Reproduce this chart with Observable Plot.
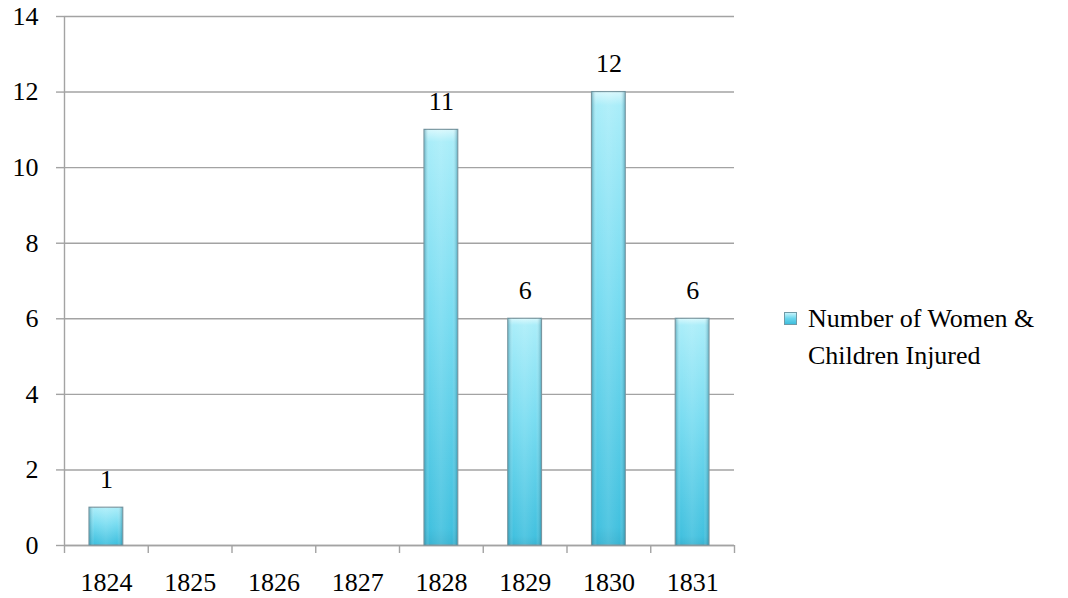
<!DOCTYPE html>
<html>
<head>
<meta charset="utf-8">
<script src="https://cdn.jsdelivr.net/npm/d3@7"></script>
<script src="https://cdn.jsdelivr.net/npm/@observablehq/plot@0.6"></script>
<style>
  body { margin: 0; background: #fff; font-family: 'Liberation Serif', serif; }
  #wrap { position: relative; width: 1068px; height: 598px; }
  #legend {
    position: absolute; left: 784px; top: 300px;
    font-family: 'Liberation Serif', serif;
    font-size: 26px; line-height: 37px; color: #000; white-space: nowrap;
  }
  #legend .sw {
    display: inline-block; width: 13px; height: 13px; margin-right: 11px;
    background: linear-gradient(180deg, #c4f3fb 0%, #6ad6ed 50%, #3ebddc 100%);
    border: 1px solid #6f9aa7; box-sizing: border-box; vertical-align: 2px;
  }
  #legend .l2 { padding-left: 24px; }
  svg text { font-family: 'Liberation Serif', serif !important; }
</style>
</head>
<body>
<div id="wrap"></div>
<script>
// Women & children injured per year
const years = ["1824", "1825", "1826", "1827", "1828", "1829", "1830", "1831"];
const injured = [1, 0, 0, 0, 11, 6, 12, 6];
const yTicks = [0, 2, 4, 6, 8, 10, 12, 14];
const seriesName = ["Number of Women &", "Children Injured"];

const data = years.map((y, i) => ({i, year: y, value: injured[i]}));
const shown = data.filter(d => d.value > 0);

const serif = "Liberation Serif";
const gridColor = "#a3a3a3";
const fs = 26;

// gradients for the glossy cyan bars
function gradients() {
  const defs = d3.create("svg:defs");
  const v = defs.append("linearGradient").attr("id", "barV")
    .attr("x1", 0).attr("y1", 0).attr("x2", 0).attr("y2", 1);
  v.append("stop").attr("offset", "0%").attr("stop-color", "#d8f8fd");
  v.append("stop").attr("offset", "3%").attr("stop-color", "#a9edf9");
  v.append("stop").attr("offset", "45%").attr("stop-color", "#78dcf1");
  v.append("stop").attr("offset", "96%").attr("stop-color", "#42c1df");
  v.append("stop").attr("offset", "100%").attr("stop-color", "#3ab4d2");
  const h = defs.append("linearGradient").attr("id", "barH")
    .attr("x1", 0).attr("y1", 0).attr("x2", 1).attr("y2", 0);
  h.append("stop").attr("offset", "0%").attr("stop-color", "#1b6f86").attr("stop-opacity", 0.4);
  h.append("stop").attr("offset", "15%").attr("stop-color", "#ffffff").attr("stop-opacity", 0.0);
  h.append("stop").attr("offset", "50%").attr("stop-color", "#ffffff").attr("stop-opacity", 0.1);
  h.append("stop").attr("offset", "85%").attr("stop-color", "#ffffff").attr("stop-opacity", 0.0);
  h.append("stop").attr("offset", "100%").attr("stop-color", "#1b6f86").attr("stop-opacity", 0.4);
  return defs.node();
}

const chart = Plot.plot({
  width: 1068,
  height: 598,
  marginLeft: 64,
  marginRight: 334,
  marginTop: 16,
  marginBottom: 53,
  style: {fontFamily: serif, fontSize: fs + "px", color: "#000", background: "#fff"},
  x: {domain: [0, years.length], axis: null, label: null},
  y: {domain: [0, 14], axis: null, label: null},
  marks: [
    gradients,
    Plot.gridY(yTicks, {stroke: gridColor, strokeOpacity: 1, strokeWidth: 1.4}),
    Plot.axisY({ticks: yTicks, label: null, tickSize: 8, tickPadding: 18, stroke: gridColor, strokeWidth: 1.4, fontSize: fs, fontFamily: serif, fill: "#000"}),
    Plot.ruleX([0], {stroke: gridColor, strokeWidth: 1.4}),
    Plot.ruleY([0], {stroke: gridColor, strokeWidth: 1.4}),
    Plot.axisX({ticks: d3.range(years.length + 1), label: null, tickFormat: () => "", tickSize: 8, stroke: gridColor, strokeWidth: 1.4}),
    Plot.axisX({ticks: years.map((_, i) => i + 0.5), label: null, tickFormat: t => years[Math.floor(t)], tickSize: 0, tickPadding: 27, fontSize: fs, fontFamily: serif, fill: "#000"}),
    Plot.rectY(shown, {x1: "i", x2: d => d.i + 1, y: "value", insetLeft: 25, insetRight: 25, fill: "url(#barV)", stroke: "#7896a0", strokeWidth: 1.2}),
    Plot.rectY(shown, {x1: "i", x2: d => d.i + 1, y: "value", insetLeft: 25.6, insetRight: 25.6, fill: "url(#barH)"}),
    Plot.text(shown, {x: d => d.i + 0.5, y: "value", text: d => String(d.value), dy: -28, fontSize: fs, fontFamily: serif, fill: "#000"})
  ]
});

const wrap = document.getElementById("wrap");
wrap.appendChild(chart);
const legend = document.createElement("div");
legend.id = "legend";
legend.innerHTML = `<div><span class="sw"></span>${seriesName[0]}</div><div class="l2">${seriesName[1]}</div>`;
wrap.appendChild(legend);
</script>
</body>
</html>
